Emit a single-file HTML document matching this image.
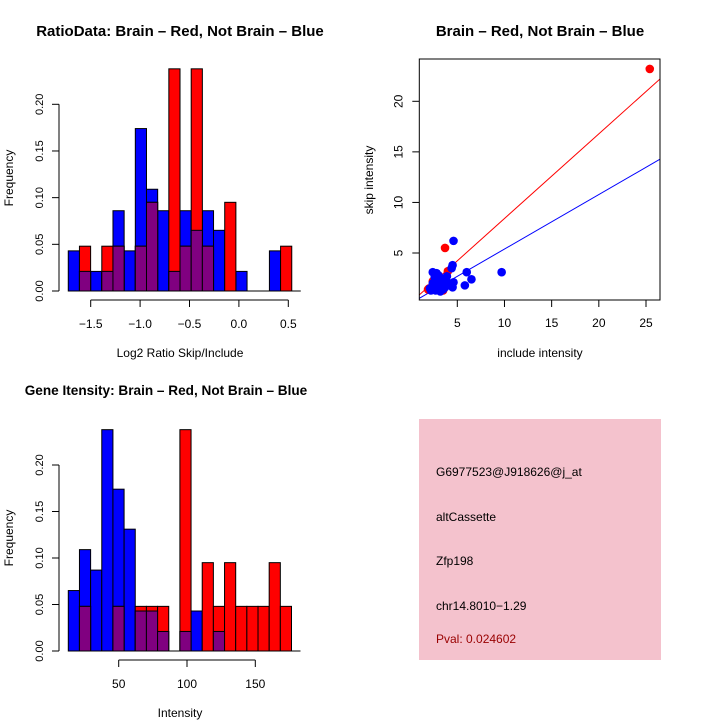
<!DOCTYPE html>
<html><head><meta charset="utf-8"><style>
body{margin:0;background:#fff}
svg{display:block;font-family:"Liberation Sans",sans-serif}
</style></head><body>
<svg id="c" width="720" height="720" viewBox="0 0 720 720">
<rect width="720" height="720" fill="#fff"/>
</svg>
<script>
// ---- data ----
const ratioBinStart = -1.727, ratioBinWidth = 0.1131;
const ratioBlue = [0.043,0.021,0.021,0.021,0.086,0.043,0.174,0.109,0.086,0.021,0.086,0.065,0.086,0.065,0,0.021,0,0,0.043,0];
const ratioRed  = [0,0.048,0,0.048,0.048,0,0.048,0.095,0,0.238,0.048,0.238,0.048,0,0.095,0,0,0,0,0.048];
const ratioXTicks = [-1.5,-1.0,-0.5,0.0,0.5];
const ratioXLabels = ["\u22121.5","\u22121.0","\u22120.5","0.0","0.5"];
const freqTicks = [0,0.05,0.10,0.15,0.20];
const freqLabels = ["0.00","0.05","0.10","0.15","0.20"];
const intBinStart = 13.1, intBinWidth = 8.17;
const intBlue = [0.065,0.109,0.087,0.238,0.174,0.131,0.043,0.043,0.021,0,0.021,0.043,0,0.021,0,0,0,0,0,0];
const intRed  = [0,0.048,0,0,0.048,0,0.048,0.048,0.048,0,0.238,0,0.095,0.048,0.095,0.048,0.048,0.048,0.095,0.048];
const intXTicks = [50,100,150];
const scXTicks = [5,10,15,20,25];
const scYTicks = [5,10,15,20];
const redX = [25.4,3.7,4.0,2.0,2.4,3.5,2.8,3.2,1.9];
const redY = [23.2,5.5,3.2,1.5,2.2,1.3,2.0,1.6,1.4];
const blueX = [4.6,4.5,4.4,9.7,6.0,6.5,5.8,2.4,2.8,4.6,4.5,3.0,2.2,2.5,2.6,3.3,3.6,3.9,4.2,2.9,3.1,3.4,2.3,2.7,3.8,4.1,3.5,3.0,2.6,4.3,3.2,2.1,2.9,3.4,3.7,2.4,3.0];
const blueY = [6.2,3.8,3.5,3.1,3.1,2.4,1.8,3.1,3.0,2.1,1.6,1.5,1.3,1.8,2.2,2.5,2.0,2.7,1.9,1.4,2.4,1.7,1.6,1.3,2.3,2.0,1.4,2.8,2.6,1.8,1.2,1.5,2.1,2.2,1.6,2.0,1.9];
const redLine = [0.04,0.837];
const blueLine = [0.0,0.539];

const svg=document.getElementById('c');
const NS='http://www.w3.org/2000/svg';
function mk(tag,attrs,parent){const e=document.createElementNS(NS,tag);for(const k in attrs)e.setAttribute(k,attrs[k]);(parent||svg).appendChild(e);return e;}
function txt(s,x,y,attrs,parent){const t=mk('text',Object.assign({x:x,y:y,'font-size':12,'text-anchor':'middle',fill:'#000'},attrs||{}),parent);t.textContent=s;return t;}
function lin(d0,d1,r0,r1){return v=>r0+(v-d0)/(d1-d0)*(r1-r0);}

function histogram(g,name,binStart,binW,blue,red,xs,ys,xTicks,xLabels){
  blue.forEach((v,i)=>{ if(v<=0) return;
    const x0=xs(binStart+i*binW), x1=xs(binStart+(i+1)*binW);
    const r=mk('rect',{x:x0,y:ys(v),width:x1-x0,height:ys(0)-ys(v),fill:'#0000ff',stroke:'#000','stroke-width':1},g);
    
    
  });
  red.forEach((v,i)=>{ if(v<=0) return;
    const x0=xs(binStart+i*binW), x1=xs(binStart+(i+1)*binW);
    const r=mk('rect',{x:x0,y:ys(v),width:x1-x0,height:ys(0)-ys(v),fill:'#ff0000',stroke:'#000','stroke-width':1},g);
    
    
  });
  blue.forEach((b,i)=>{ const m=Math.min(b,red[i]); if(m<=0) return;
    const x0=xs(binStart+i*binW), x1=xs(binStart+(i+1)*binW);
    const r=mk('rect',{x:x0,y:ys(m),width:x1-x0,height:ys(0)-ys(m),fill:'#800080',stroke:'#000','stroke-width':1},g);
    
    
  });
  mk('line',{x1:xs(binStart),x2:xs(binStart+blue.length*binW)+9,y1:ys(0),y2:ys(0),stroke:'#000'},g);
  const ya=mk('g',{},g);
  mk('line',{x1:59,x2:59,y1:ys(0),y2:ys(0.20),stroke:'#000'},ya);
  freqTicks.forEach((t,i)=>{mk('line',{x1:52,x2:59,y1:ys(t),y2:ys(t),stroke:'#000'},ya);
    txt(freqLabels[i],43,ys(t),{transform:'rotate(-90 43 '+ys(t)+')','font-size':11},ya);});
  const xa=mk('g',{},g);
  const yA=ys(0)+9;
  mk('line',{x1:xs(xTicks[0]),x2:xs(xTicks[xTicks.length-1]),y1:yA,y2:yA,stroke:'#000'},xa);
  xTicks.forEach((t,i)=>{mk('line',{x1:xs(t),x2:xs(t),y1:yA,y2:yA+7,stroke:'#000'},xa);
    txt(xLabels[i],xs(t),yA+28,{'font-size':12},xa);});
}

{const g=mk('g',{});
 const xs=lin(-1.5,0.5,90.7,288.3), ys=lin(0,0.2,291,104.3);
 histogram(g,'ratio',ratioBinStart,ratioBinWidth,ratioBlue,ratioRed,xs,ys,ratioXTicks,ratioXLabels);
 const t=txt('RatioData: Brain \u2013 Red, Not Brain \u2013 Blue',180,36,{'font-size':15,'font-weight':'bold'},g);
 const xl=txt('Log2 Ratio Skip/Include',180,357,{'font-size':12},g);
 const yl=txt('Frequency',13,178,{transform:'rotate(-90 13 178)','font-size':12},g);
}
{const g=mk('g',{});
 const xs=lin(50,150,118.7,255.3), ys=lin(0,0.2,651,465);
 histogram(g,'intensity',intBinStart,intBinWidth,intBlue,intRed,xs,ys,intXTicks,intXTicks.map(String));
 const t=txt('Gene Itensity: Brain \u2013 Red, Not Brain \u2013 Blue',166,395,{'font-size':13.6,'font-weight':'bold'},g);
 const xl=txt('Intensity',180,717,{'font-size':12},g);
 const yl=txt('Frequency',13,538,{transform:'rotate(-90 13 538)','font-size':12},g);
}
{const g=mk('g',{});
 const xs=lin(5,25,457.3,646), ys=lin(5,20,253,101.3);
 const L=419.3,R=660,T=59,B=300;
 const cp=mk('clipPath',{id:'sc'},g);mk('rect',{x:L,y:T,width:R-L,height:B-T},cp);
 const pts=mk('g',{'clip-path':'url(#sc)'},g);
 const x0=(L-457.3)/((646-457.3)/20)+5, x1=(R-457.3)/((646-457.3)/20)+5;
 [[redLine,'#ff0000','red-fit-line'],[blueLine,'#0000ff','blue-fit-line']].forEach(([c,col,n])=>{
   const l=mk('line',{x1:xs(x0),y1:ys(c[0]+c[1]*x0),x2:xs(x1),y2:ys(c[0]+c[1]*x1),stroke:col,'stroke-width':1},pts);
   });
 redX.forEach((x,i)=>{const c=mk('circle',{cx:xs(x),cy:ys(redY[i]),r:4.3,fill:'#ff0000'},pts);
   });
 blueX.forEach((x,i)=>{const c=mk('circle',{cx:xs(x),cy:ys(blueY[i]),r:4.3,fill:'#0000ff'},pts);
   });
 const f=mk('rect',{x:L,y:T,width:R-L,height:B-T,fill:'none',stroke:'#000'},g);
 scXTicks.forEach(t=>{mk('line',{x1:xs(t),x2:xs(t),y1:B,y2:B+7,stroke:'#000'},g);txt(String(t),xs(t),B+27,{'font-size':12},g);});
 scYTicks.forEach(t=>{mk('line',{x1:L-7,x2:L,y1:ys(t),y2:ys(t),stroke:'#000'},g);txt(String(t),L-17,ys(t),{transform:'rotate(-90 '+(L-17)+' '+ys(t)+')','font-size':12},g);});
 const t=txt('Brain \u2013 Red, Not Brain \u2013 Blue',540,36,{'font-size':15,'font-weight':'bold'},g);
 const xl=txt('include intensity',540,357,{'font-size':12},g);
 const yl=txt('skip intensity',373,180,{transform:'rotate(-90 373 180)','font-size':12},g);
}
{const g=mk('g',{});
 mk('rect',{x:419,y:419,width:242,height:241,fill:'#f4c2cd'},g);
 const lines=[['G6977523@J918626@j_at',476,'#000','gene-id'],['altCassette',521,'#000','event-type'],['Zfp198',565,'#000','gene-name'],['chr14.8010\u22121.29',610,'#000','location'],['Pval: 0.024602',643,'#990000','p-value']];
 lines.forEach(([s,y,c,n])=>{const t=txt(s,436,y,{'text-anchor':'start','font-size':12,fill:c},g);});
}
</script>
</body></html>
